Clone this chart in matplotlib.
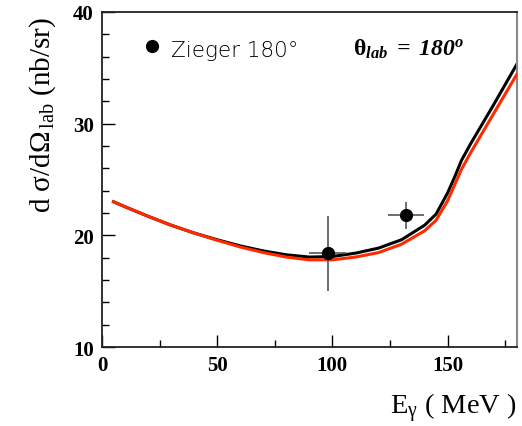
import matplotlib
matplotlib.use("Agg")
import matplotlib.pyplot as plt
from matplotlib.ticker import MultipleLocator

plt.rcParams['mathtext.fontset'] = 'custom'
plt.rcParams['mathtext.rm'] = 'Liberation Serif'
plt.rcParams['mathtext.bf'] = 'Liberation Serif:bold'
plt.rcParams['mathtext.sf'] = 'Liberation Serif:bold:italic'
plt.rcParams['mathtext.it'] = 'Liberation Serif:italic'

# Theory curves
energy = [5, 10, 20, 30, 40, 50, 60, 70, 80, 90, 100, 110, 120, 130, 140, 145, 150, 153, 156, 160, 170, 180]
black_curve = [23.0, 22.55, 21.7, 20.9, 20.2, 19.6, 19.05, 18.6, 18.25, 18.05, 18.1, 18.4, 18.85, 19.6, 20.9, 21.9, 23.8, 25.2, 26.7, 28.2, 31.7, 35.3]
red_curve = [23.0, 22.55, 21.7, 20.9, 20.2, 19.55, 18.95, 18.45, 18.05, 17.8, 17.8, 18.05, 18.45, 19.2, 20.4, 21.35, 23.1, 24.5, 25.9, 27.4, 30.9, 34.4]

# Zieger data
data_x = [98.0, 132.0]
data_y = [18.4, 21.8]
data_xerr = [8.0, 7.8]
data_yerr = [3.35, 1.2]

fig = plt.figure(figsize=(5.22, 4.27), dpi=100)
ax = fig.add_axes([0.1954, 0.185, 0.7946, 0.785])

ax.plot(energy, black_curve, color='black', lw=2.2, zorder=2)
ax.plot(energy, red_curve, color='#ff2a00', lw=2.2, zorder=3)
ax.errorbar(data_x, data_y, xerr=data_xerr, yerr=data_yerr, fmt='o', color='black',
            ecolor='#555555', elinewidth=1.2, capsize=0, markersize=8.5, zorder=4)

ax.set_xlim(0, 180)
ax.set_ylim(10, 40)
ax.xaxis.set_major_locator(MultipleLocator(50))
ax.xaxis.set_minor_locator(MultipleLocator(25))
ax.yaxis.set_major_locator(MultipleLocator(10))
ax.yaxis.set_minor_locator(MultipleLocator(2))
ax.tick_params(which='both', direction='in', top=False, right=False, width=1.0)
ax.tick_params(which='major', length=9, pad=6)
ax.tick_params(which='minor', length=5)
for lab in ax.get_xticklabels() + ax.get_yticklabels():
    lab.set_fontfamily('Liberation Serif')
    lab.set_fontweight('bold')
    lab.set_fontsize(15)

for s in ['left', 'bottom', 'top']:
    ax.spines[s].set_color('#222222')
    ax.spines[s].set_linewidth(1.3)
ax.spines['right'].set_color('#888888')
ax.spines['right'].set_linewidth(1.5)

ax.text(1.0, -0.13, r'E$_{\mathrm{\gamma}}$ ( MeV )', transform=ax.transAxes,
        ha='right', va='top', fontsize=20.5, family='Liberation Serif')
ax.text(-0.143, 0.988, r'd σ/dΩ$_{\,\mathrm{lab}}$ (nb/sr)', transform=ax.transAxes,
        ha='center', va='top', rotation=90, fontsize=21, family='Liberation Serif')

# legend
ax.plot([21.7], [36.96], 'o', color='black', markersize=8.5, clip_on=False)
ax.text(30, 36.6, 'Zieger 180°', fontsize=15.5, family='DejaVu Sans', weight='light',
        ha='left', va='center', color='black')
ax.text(109, 36.8, r'$\mathbf{\theta}_{\mathsf{lab}}\ \mathsf{=\ 180^{o}}$', fontsize=17,
        ha='left', va='center')

fig.savefig('out.png', dpi=100)
